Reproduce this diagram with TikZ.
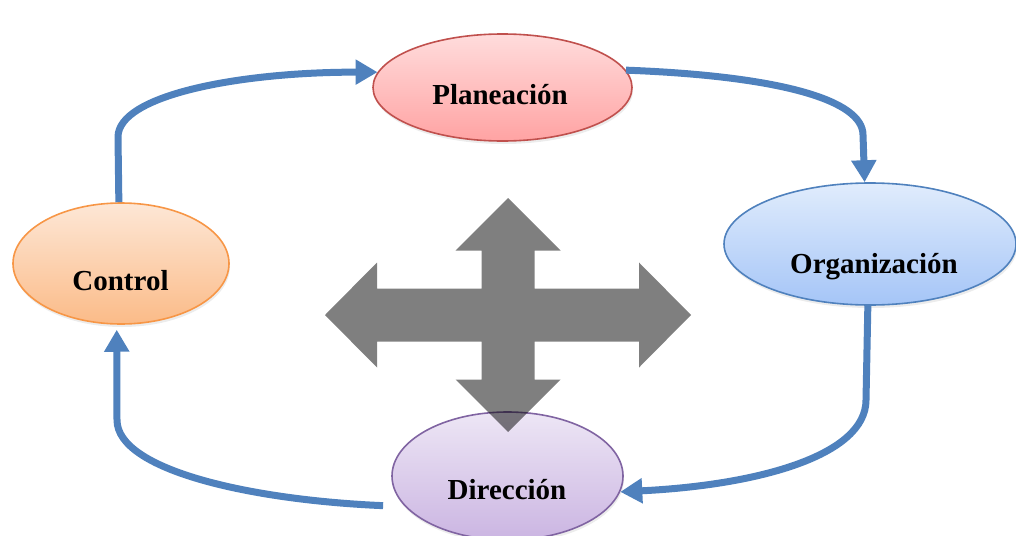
\documentclass[tikz,border=0pt]{standalone}
\usepackage{fontspec}
\setmainfont{Liberation Serif}
\usetikzlibrary{shapes.geometric,arrows.meta,shadows}
\definecolor{flowblue}{HTML}{4F81BD}
\definecolor{plTop}{HTML}{FFDCDC}\definecolor{plBot}{HTML}{FFA3A3}\definecolor{plLine}{HTML}{C0504D}
\definecolor{orTop}{HTML}{E0ECFC}\definecolor{orBot}{HTML}{A5C5F7}\definecolor{orLine}{HTML}{4F81BD}
\definecolor{coTop}{HTML}{FDE7D6}\definecolor{coBot}{HTML}{FBBB88}\definecolor{coLine}{HTML}{F79646}
\definecolor{diTop}{HTML}{EDE6F5}\definecolor{diBot}{HTML}{CBB5E2}\definecolor{diLine}{HTML}{8064A2}
\tikzset{
  stage/.style={ellipse, inner sep=0pt, line width=1.6pt,
    drop shadow={opacity=0.15, shadow xshift=1pt, shadow yshift=-3pt}},
  lbl/.style={anchor=base, inner sep=0pt, font=\fontsize{29}{34}\selectfont\bfseries},
  flow/.style={draw=flowblue, line width=7pt, line cap=butt, line join=round,
    -{Triangle[length=22pt,width=24pt]}},
}
\begin{document}
\begin{tikzpicture}[x=1pt,y=-1pt]
\useasboundingbox (0,0) rectangle (1016,535);
% ellipses
\node[stage, draw=plLine, top color=plTop, bottom color=plBot,
  minimum width=259pt, minimum height=107pt] (pl) at (502.5,87.5) {};
\node[stage, draw=orLine, top color=orTop, bottom color=orBot,
  minimum width=292pt, minimum height=122pt] (org) at (870,244) {};
\node[stage, draw=coLine, top color=coTop, bottom color=coBot,
  minimum width=216pt, minimum height=121pt] (ctl) at (121,263.5) {};
\node[stage, draw=diLine, top color=diTop, bottom color=diBot,
  minimum width=231pt, minimum height=128pt] (dir) at (507.5,476) {};
% connectors
\draw[flow] (ctl.92) -- (118,137) .. controls (118,95) and (240,72) .. (pl.173);
\draw[flow] (pl.8) .. controls (780,76) and (863,100) .. (863,135) -- (org.95);
\draw[flow] (org.268) -- (866,400) .. controls (866,455) and (760,485) .. (dir.-8);
\draw[flow, shorten >=5pt] ([xshift=-21pt]dir.196) .. controls (250,500) and (117,470) .. (117,420) -- (ctl.266);
% four-way arrow
\fill[black, opacity=0.5] (508,198) -- (560.5,250.5) -- (534.5,250.5) -- (534.5,288.5)
  -- (639,288.5) -- (639,262.5) -- (691,315) -- (639,367.5) -- (639,341.5)
  -- (534.5,341.5) -- (534.5,379.5) -- (560.5,379.5) -- (508,432)
  -- (455.5,379.5) -- (481.5,379.5) -- (481.5,341.5) -- (377,341.5)
  -- (377,367.5) -- (325,315) -- (377,262.5) -- (377,288.5)
  -- (481.5,288.5) -- (481.5,250.5) -- (455.5,250.5) -- cycle;
% labels
\node[lbl] (plt) at (500,104) {Planeación};
\node[lbl] (orgt) at (874,273) {Organización};
\node[lbl] (ctlt) at (120.5,290) {Control};
\node[lbl] (dirt) at (507,499) {Dirección};
\end{tikzpicture}
\end{document}
